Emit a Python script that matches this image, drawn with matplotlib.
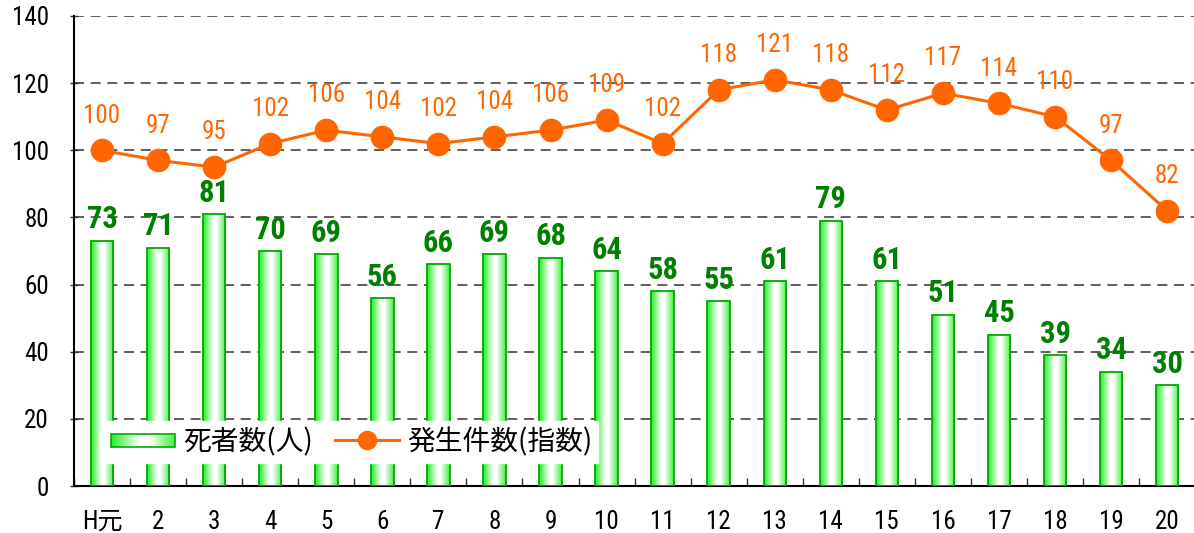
import numpy as np
import matplotlib
matplotlib.use("Agg")
import matplotlib.pyplot as plt
from matplotlib import font_manager as fm
from matplotlib.colors import LinearSegmentedColormap
from matplotlib.patches import Rectangle
from matplotlib.legend_handler import HandlerBase
from matplotlib.lines import Line2D

# ---- pick a narrow Latin font if one is installed ----
_fonts = fm.fontManager.ttflist
_names = {f.name for f in _fonts}
latin_family = None
latin_stretch = "normal"
for cand in ["Liberation Sans Narrow", "Arial Narrow", "Roboto Condensed",
             "DejaVu Sans Condensed", "Open Sans Condensed", "Noto Sans Condensed"]:
    if cand in _names:
        latin_family = cand
        break
if latin_family is None:
    for base in ["Liberation Sans", "Noto Sans", "Roboto", "Open Sans", "DejaVu Sans", "Lato", "Inter"]:
        cond = [f for f in _fonts if f.name == base and str(f.stretch) in
                ("condensed", "semi-condensed", "extra-condensed", "500", "400", "300")]
        if cond:
            latin_family = base
            latin_stretch = cond[0].stretch
            break
if latin_family is None:
    latin_family = "Liberation Sans"

plt.rcParams['font.family'] = [latin_family, 'Noto Sans CJK JP', 'DejaVu Sans']
plt.rcParams['font.stretch'] = latin_stretch
narrow = latin_family != "Liberation Sans"

categories = ["H元"] + [str(i) for i in range(2, 21)]
deaths = [73, 71, 81, 70, 69, 56, 66, 69, 68, 64, 58, 55, 61, 79, 61, 51, 45, 39, 34, 30]
incidents_index = [100, 97, 95, 102, 106, 104, 102, 104, 106, 109, 102, 118, 121, 118, 112, 117, 114, 110, 97, 82]
yticks = [0, 20, 40, 60, 80, 100, 120, 140]
legend_labels = ["死者数(人)", "発生件数(指数)"]

GREEN_TXT = "#008000"
ORANGE = "#FF6600"
BAR_EDGE = "#00AA00"

fs_tick = 18 if narrow else 16
fs_orange = 18 if narrow else 16
fs_green = 22 if narrow else 19

cmap = LinearSegmentedColormap.from_list(
    "g", [(0.0, "#22EE22"), (0.45, "#FFFFFF"), (0.6, "#FFFFFF"), (1.0, "#44EE44")])

fig = plt.figure(figsize=(11.94, 5.33), dpi=100)
ax = fig.add_axes([0.062, 0.088, 0.939, 0.882])

x = np.arange(len(categories))
width = 0.4
bars = ax.bar(x, deaths, width=width, facecolor="none", edgecolor=BAR_EDGE,
              linewidth=1.3, zorder=3)
grad = np.linspace(0, 1, 64).reshape(1, -1)
for b in bars:
    bx, by = b.get_x(), b.get_y()
    bw, bh = b.get_width(), b.get_height()
    im = ax.imshow(grad, cmap=cmap, aspect="auto",
                   extent=[bx, bx + bw, by, by + bh], zorder=2, interpolation="bilinear")
    im.set_clip_path(b)

for xi, v in zip(x, deaths):
    ax.annotate(str(v), (xi, v), xytext=(0, 9), textcoords="offset points",
                ha="center", va="baseline", color=GREEN_TXT, fontsize=fs_green,
                fontweight="bold", zorder=6)

ax.plot(x, incidents_index, color=ORANGE, linewidth=2.2, marker="o",
        markersize=16, zorder=5)
for xi, v in zip(x, incidents_index):
    ax.annotate(str(v), (xi, v), xytext=(0, 25), textcoords="offset points",
                ha="center", va="center", color=ORANGE, fontsize=fs_orange, zorder=6)

ax.set_xlim(-0.5, len(categories) - 0.5)
ax.set_ylim(0, 140)
ax.set_yticks(yticks)
ax.set_yticklabels([str(t) for t in yticks], fontsize=fs_tick)
ax.tick_params(axis="y", direction="inout", length=6, width=1, pad=15, color="#333333")
ax.set_xticks(x)
ax.set_xticklabels(categories, fontsize=fs_tick)
ax.tick_params(axis="x", which="major", length=0, pad=17)
ax.set_xticks(np.arange(-0.5, len(categories), 1.0), minor=True)
ax.tick_params(axis="x", which="minor", direction="in", length=6, width=1, color="#333333")

for t in yticks[1:]:
    ax.axhline(t, color="#444444", linewidth=1.2, linestyle=(0, (6, 4)), zorder=1)

ax.spines["top"].set_visible(False)
ax.spines["right"].set_visible(False)
ax.spines["left"].set_linewidth(1.5)
ax.spines["bottom"].set_linewidth(1.5)


class GradientPatchHandler(HandlerBase):
    def create_artists(self, legend, orig_handle, xdescent, ydescent, width, height, fontsize, trans):
        artists = []
        n = 30
        h = height * 0.65
        y0 = -ydescent + (height - h) / 2
        for i in range(n):
            c = cmap((i + 0.5) / n)
            r = Rectangle((-xdescent + width * i / n, y0), width / n + 0.3, h,
                          facecolor=c, edgecolor="none", transform=trans)
            artists.append(r)
        outline = Rectangle((-xdescent, y0), width, h, facecolor="none",
                            edgecolor=BAR_EDGE, linewidth=1.2, transform=trans)
        artists.append(outline)
        return artists


bar_handle = Rectangle((0, 0), 1, 1)
line_handle = Line2D([], [], color=ORANGE, linewidth=2.2, marker="o", markersize=13)
leg = ax.legend([bar_handle, line_handle], legend_labels,
                handler_map={Rectangle: GradientPatchHandler()},
                loc="lower left", bbox_to_anchor=(0.028, 0.05), ncol=2,
                prop={"family": ["Noto Sans CJK JP"], "size": 20},
                frameon=True, fancybox=False, framealpha=1,
                edgecolor="white", handlelength=2.3, handletextpad=0.3,
                columnspacing=0.8, borderpad=0.2, borderaxespad=0)
leg.set_zorder(10)

fig.savefig("out.png", dpi=100)
